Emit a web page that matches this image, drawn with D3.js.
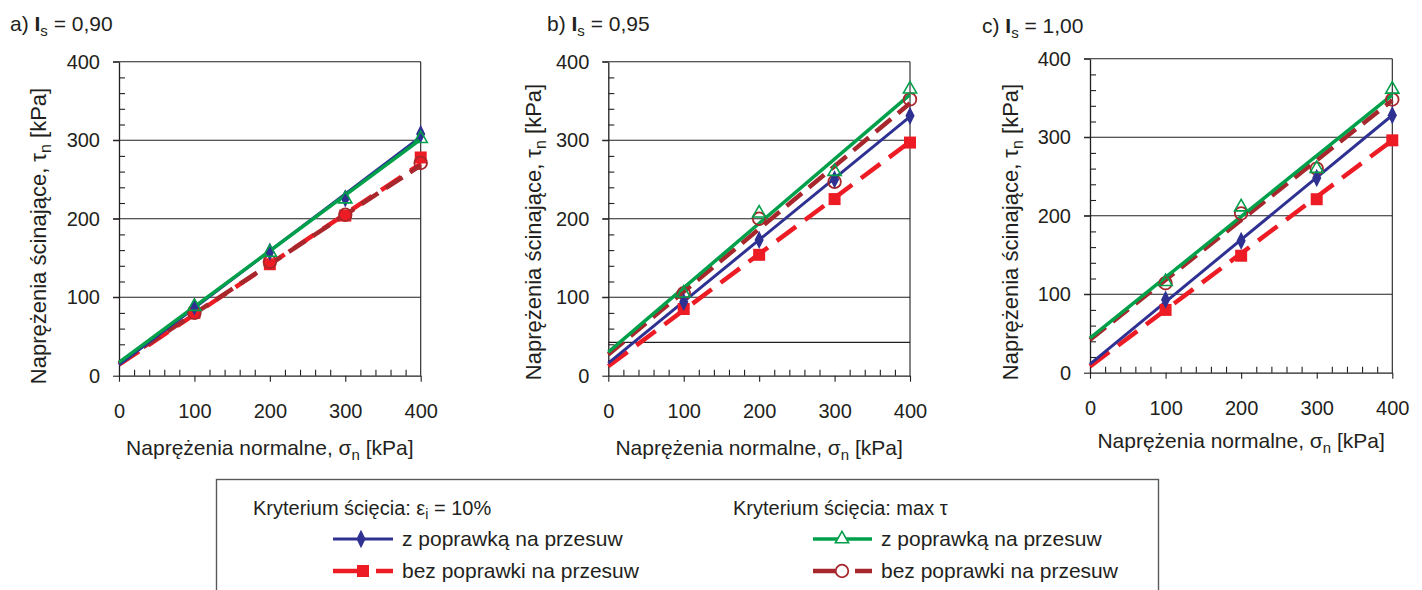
<!DOCTYPE html>
<html><head><meta charset="utf-8">
<script src="https://cdn.jsdelivr.net/npm/d3@7"></script>
<style>
body{margin:0;background:#fff;}
svg{display:block;font-family:"Liberation Sans",Arial,sans-serif;}
</style></head>
<body>
<svg id="chart" width="1422" height="590"></svg>
<script>
// ---------- DATA ----------
const sigmaN = [100, 200, 300, 400];           // normal stress of test points [kPa]
const fitSigma = [0, 400];                      // ends of fitted lines
const xTicks = [0, 100, 200, 300, 400];
const yTicks = [0, 100, 200, 300, 400];
const minorTicks = [20,40,60,80,120,140,160,180,220,240,260,280,320,340,360,380];
const panelLetters = ["a)", "b)", "c)"];
const panelIs = ["0,90", "0,95", "1,00"];

// ε = 10%, z poprawką (blue diamonds)
const bluePtsA = [88, 158, 226, 308];
const bluePtsB = [94, 173, 250, 331];
const bluePtsC = [93, 168, 248, 328];
const blueFitA = [14, 304];
const blueFitB = [16, 330];
const blueFitC = [11, 328];
// ε = 10%, bez poprawki (red squares)
const redPtsA = [80, 142, 204, 278];
const redPtsB = [85, 154, 225, 297];
const redPtsC = [80, 149, 221, 296];
const redFitA = [14, 270];
const redFitB = [12, 298];
const redFitC = [8, 296];
// max τ, z poprawką (green triangles)
const greenPtsA = [88, 157, 225, 302];
const greenPtsB = [105, 207, 260, 365];
const greenPtsC = [116, 211, 260, 361];
const greenFitA = [17, 301];
const greenFitB = [30, 358];
const greenFitC = [44, 354];
// max τ, bez poprawki (dark red circles)
const dredPtsA = [80, 145, 205, 271];
const dredPtsB = [105, 200, 247, 352];
const dredPtsC = [114, 203, 260, 348];
const dredFitA = [16, 268];
const dredFitB = [27, 347];
const dredFitC = [42, 347];
// extra horizontal reference line seen in panel b
const extraLineB = [42.5];

const legendHeads = ["Kryterium ścięcia: ε", "Kryterium ścięcia: max τ"];
const legendLabels = ["z poprawką na przesuw", "bez poprawki na przesuw"];

// ---------- STYLE / LAYOUT ----------
const C = {blue:"#2E3192", red:"#ED1C24", green:"#00A04B", dred:"#A8272C", ink:"#231F20"};
const panels = [
  {x0:119, x1:420.7, yT:61.7, yB:375.7, titleX:10, titleY:31, ylabX:38, ylabY:236, xlabY:455,
   blue:[bluePtsA,blueFitA], red:[redPtsA,redFitA], green:[greenPtsA,greenFitA], dred:[dredPtsA,dredFitA], extra:[]},
  {x0:608.3, x1:910, yT:61.7, yB:375.7, titleX:547, titleY:31, ylabX:533, ylabY:232, xlabY:455,
   blue:[bluePtsB,blueFitB], red:[redPtsB,redFitB], green:[greenPtsB,greenFitB], dred:[dredPtsB,dredFitB], extra:extraLineB},
  {x0:1090, x1:1392.3, yT:58.7, yB:372.7, titleX:982, titleY:33, ylabX:1010, ylabY:232, xlabY:448,
   blue:[bluePtsC,blueFitC], red:[redPtsC,redFitC], green:[greenPtsC,greenFitC], dred:[dredPtsC,dredFitC], extra:[]}
];

const svg = d3.select("#chart");

const diamond = d3.symbol().type(d3.symbolDiamond).size(80);
const square = d3.symbol().type(d3.symbolSquare).size(144);
const triangle = d3.symbol().type(d3.symbolTriangle).size(75);

function drawMarker(g, type, cx, cy, legend) {
  if (type === "blue") {
    g.append("path").attr("d", diamond()).attr("transform",`translate(${cx},${cy}) scale(0.95,1.1)`)
      .attr("fill", C.blue);
  } else if (type === "red") {
    g.append("path").attr("d", square()).attr("transform",`translate(${cx},${cy})`).attr("fill", C.red);
  } else if (type === "green") {
    g.append("path").attr("d", triangle()).attr("transform",`translate(${cx},${cy})`)
      .attr("fill", legend ? "#fff" : "none").attr("stroke", C.green).attr("stroke-width", 1.6);
  } else {
    g.append("circle").attr("cx", cx).attr("cy", cy).attr("r", 6.3)
      .attr("fill", legend ? "#fff" : "none").attr("stroke", C.dred).attr("stroke-width", 1.8);
  }
}

const lineStyle = {
  blue: {w:3, dash:null},
  green:{w:3.5, dash:null},
  red:  {w:4.5, dash:"24,11"},
  dred: {w:4.5, dash:"20,9"}
};

panels.forEach((p, i) => {
  const x = d3.scaleLinear().domain([0, 400]).range([p.x0, p.x1]);
  const y = d3.scaleLinear().domain([0, 400]).range([p.yB, p.yT]);
  const g = svg.append("g");

  // gridlines (horizontal) incl. 400 top line
  g.selectAll(".grid").data(yTicks.filter(v => v > 0).concat(p.extra)).join("line")
    .attr("x1", d => p.extra.includes(d) ? x(0) : x(0) - 6).attr("x2", x(400))
    .attr("y1", d => y(d)).attr("y2", d => y(d))
    .attr("stroke", C.ink).attr("stroke-width", 1.1);

  // right border
  g.append("line").attr("x1", x(400)).attr("x2", x(400)).attr("y1", y(400)).attr("y2", y(0))
    .attr("stroke", C.ink).attr("stroke-width", 1.1);

  // left axis with labels
  g.append("g").attr("transform", `translate(${x(0)},0)`)
    .call(d3.axisLeft(y).tickValues(yTicks).tickSize(6).tickPadding(13).tickSizeOuter(0));
  // minor inner ticks on y
  g.append("g").attr("transform", `translate(${x(0)},0)`)
    .call(d3.axisLeft(y).tickValues(minorTicks).tickSize(-6).tickFormat("").tickSizeOuter(0))
    .select(".domain").remove();

  // bottom axis
  g.append("g").attr("transform", `translate(0,${y(0)})`)
    .call(d3.axisBottom(x).tickValues(xTicks).tickSize(6).tickPadding(22).tickSizeOuter(0));
  g.append("g").attr("transform", `translate(0,${y(0)})`)
    .call(d3.axisBottom(x).tickValues(minorTicks).tickSize(-6).tickFormat("").tickSizeOuter(0))
    .select(".domain").remove();

  g.selectAll(".domain").attr("stroke", C.ink).attr("stroke-width", 1.3);
  g.selectAll(".tick line").attr("stroke", C.ink).attr("stroke-width", 1.1);
  g.selectAll(".tick text").attr("font-size", 20).attr("fill", C.ink)
    .attr("font-family", '"Liberation Sans", Arial, sans-serif');

  // series: lines and markers
  const order = ["red", "dred", "blue", "green"];
  order.forEach(key => {
    const [pts, fit] = p[key];
    const st = lineStyle[key];
    const ln = g.append("line")
      .attr("x1", x(fitSigma[0])).attr("y1", y(fit[0]))
      .attr("x2", x(fitSigma[1])).attr("y2", y(fit[1]))
      .attr("stroke", C[key]).attr("stroke-width", st.w);
    if (st.dash) ln.attr("stroke-dasharray", st.dash);
  });
  order.forEach(key => {
    const [pts] = p[key];
    pts.forEach((v, j) => drawMarker(g, key, x(sigmaN[j]), y(v), false));
  });

  // panel title
  const t = svg.append("text").attr("x", p.titleX).attr("y", p.titleY)
    .attr("font-size", 21).attr("fill", C.ink);
  t.append("tspan").text(panelLetters[i] + " ");
  t.append("tspan").attr("font-weight", "bold").text("I");
  t.append("tspan").attr("font-size", 15).attr("dy", 5).text("s");
  t.append("tspan").attr("dy", -5).text(" = " + panelIs[i]);

  // x axis title
  const xt = svg.append("text").attr("x", (p.x0 + p.x1) / 2).attr("y", p.xlabY)
    .attr("text-anchor", "middle").attr("font-size", 21).attr("fill", C.ink);
  xt.append("tspan").text("Naprężenia normalne, σ");
  xt.append("tspan").attr("font-size", 15).attr("dy", 5).text("n");
  xt.append("tspan").attr("dy", -5).text(" [kPa]");

  // y axis title
  const yt = svg.append("text").attr("transform", `translate(${p.ylabX},${p.ylabY}) rotate(-90)`)
    .attr("text-anchor", "middle").attr("dy", "0.35em").attr("font-size", 22).attr("fill", C.ink);
  yt.append("tspan").text("Naprężenia ścinające, τ");
  yt.append("tspan").attr("font-size", 16).attr("dy", 5).text("n");
  yt.append("tspan").attr("dy", -5).text(" [kPa]");
});

// ---------- LEGEND ----------
const lg = svg.append("g");
lg.append("rect").attr("x", 216.5).attr("y", 479.5).attr("width", 942).attr("height", 140)
  .attr("fill", "none").attr("stroke", "#58595B").attr("stroke-width", 1.4);

const h1 = lg.append("text").attr("x", 253).attr("y", 515).attr("font-size", 20).attr("fill", C.ink);
h1.append("tspan").text(legendHeads[0]);
h1.append("tspan").attr("font-size", 14).attr("dy", 4).text("i");
h1.append("tspan").attr("dy", -4).text(" = 10%");
lg.append("text").attr("x", 733).attr("y", 515).attr("font-size", 20).attr("fill", C.ink).text(legendHeads[1]);

const legItems = [
  {key:"blue", x1:333, x2:393, mx:361, tx:402, y:539, label:legendLabels[0], dash:null},
  {key:"red", x1:333, x2:393, mx:363, tx:402, y:571, label:legendLabels[1], dash:"36,7,20"},
  {key:"green", x1:813, x2:872, mx:842, tx:881, y:539, label:legendLabels[0], dash:null},
  {key:"dred", x1:813, x2:872, mx:842, tx:881, y:571, label:legendLabels[1], dash:"30,12,20"}
];
legItems.forEach(it => {
  const l = lg.append("line").attr("x1", it.x1).attr("x2", it.x2).attr("y1", it.y).attr("y2", it.y)
    .attr("stroke", C[it.key]).attr("stroke-width", lineStyle[it.key].w);
  if (it.dash) l.attr("stroke-dasharray", it.dash);
  drawMarker(lg, it.key, it.mx, it.y, true);
  lg.append("text").attr("x", it.tx).attr("y", it.y + 7).attr("font-size", 21).attr("fill", C.ink).text(it.label);
});
</script>
</body></html>
